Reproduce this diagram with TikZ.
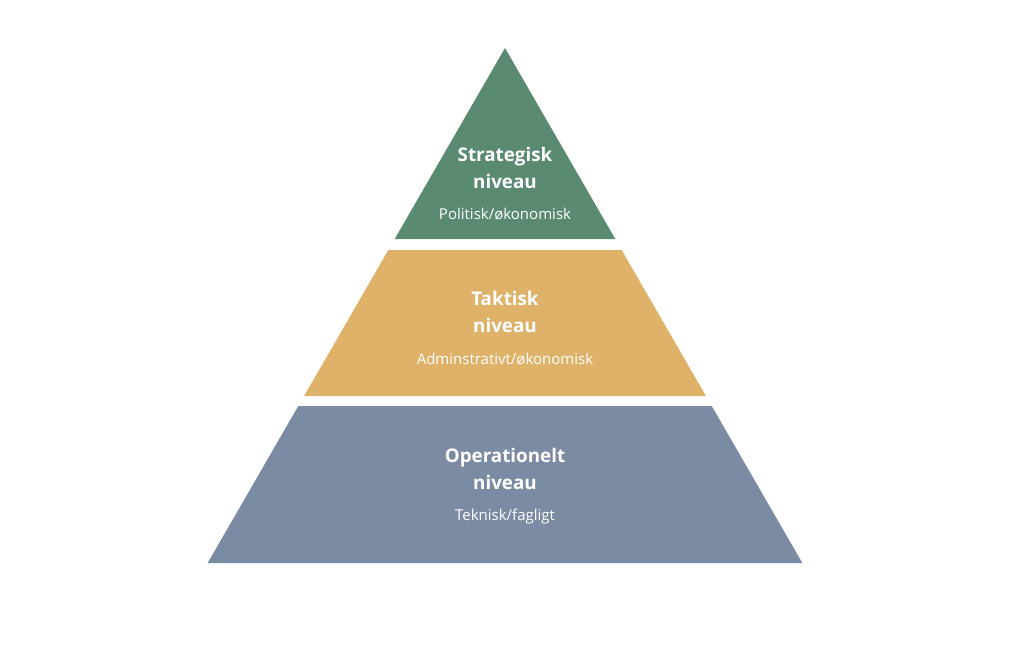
\documentclass[tikz,border=0pt]{standalone}
\usepackage{fontspec}
\setmainfont{Open Sans}
\usepackage{tikz}
\usetikzlibrary{positioning,calc}
\definecolor{strategicgreen}{RGB}{91,138,114}
\definecolor{tacticgold}{RGB}{223,178,106}
\definecolor{operslate}{RGB}{123,139,163}

\begin{document}
\begin{tikzpicture}[
    x=1pt, y=-1pt,
    levtitle/.style={text=white, align=center,
        font=\fontsize{18.8}{27}\selectfont\bfseries},
    levsub/.style={text=white, font=\fontsize{15}{17}\selectfont}
]
    \useasboundingbox (0,0) rectangle (1027,656);

    % pyramid bands: top y / bottom y / colour, apex at (505,48), 60 degree sides
    \foreach \yt/\yb/\col in {48/239/strategicgreen, 250/396/tacticgold, 406/563/operslate}{
        \pgfmathsetmacro{\wt}{0.5774*(\yt-48)}
        \pgfmathsetmacro{\wb}{0.5774*(\yb-48)}
        \fill[\col] (505-\wt,\yt) -- (505+\wt,\yt) -- (505+\wb,\yb) -- (505-\wb,\yb) -- cycle;
    }

    \node[levtitle] (strat) at (505,168) {Strategisk\\niveau};
    \node[levsub] (stratsub) at (505,214) {Politisk/økonomisk};

    \node[levtitle] (takt) at (505,312) {Taktisk\\niveau};
    \node[levsub] (taktsub) at (505,359) {Adminstrativt/økonomisk};

    \node[levtitle] (oper) at (505,469) {Operationelt\\niveau};
    \node[levsub] (opersub) at (505,517) {Teknisk/fagligt};
\end{tikzpicture}
\end{document}
